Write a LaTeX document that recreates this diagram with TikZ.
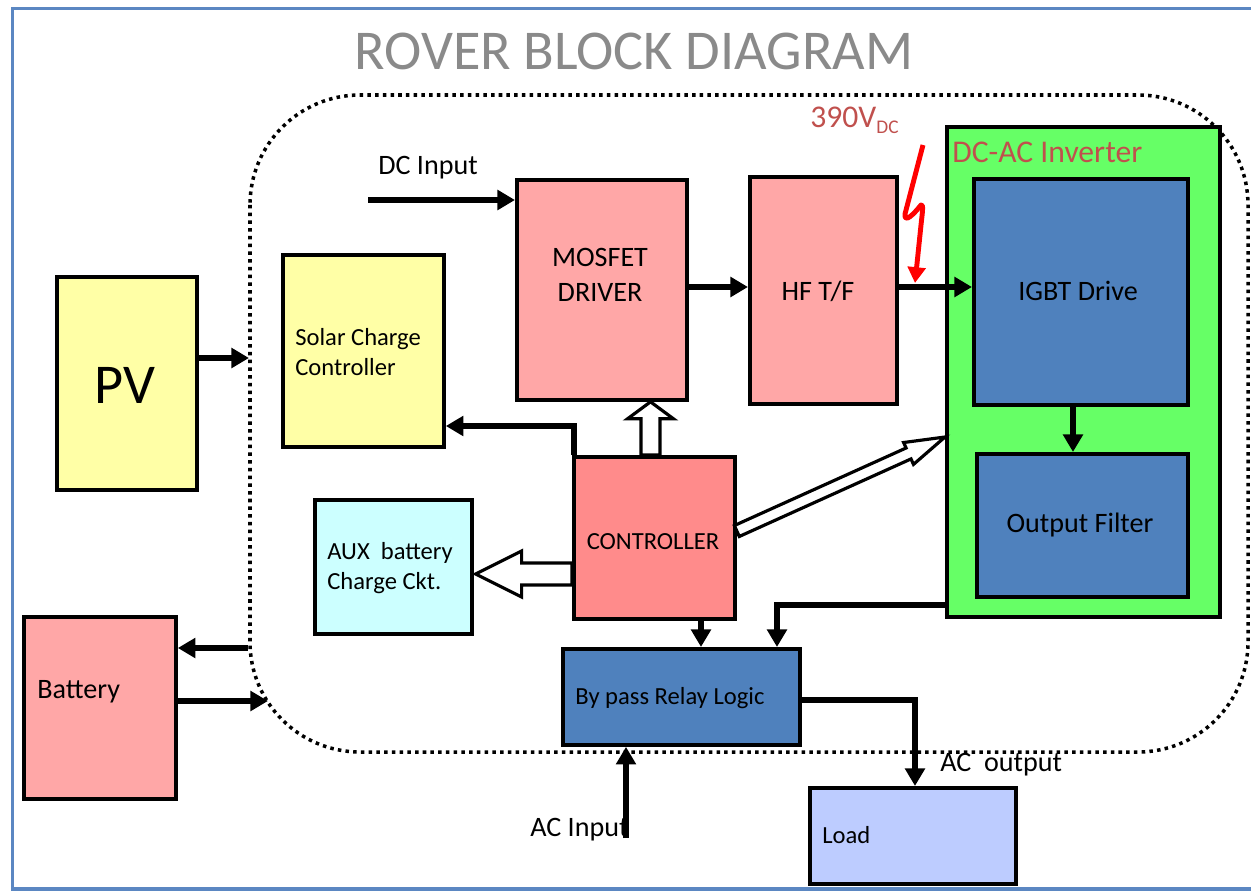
\documentclass[tikz,border=0pt]{standalone}
\usepackage{fontspec}
\setmainfont{Carlito}
\usetikzlibrary{arrows.meta,calc}
\definecolor{pinkbox}{HTML}{FFA7A7}
\definecolor{ctrlred}{HTML}{FF8B8B}
\definecolor{yelbox}{HTML}{FFFFA6}
\definecolor{cyanbox}{HTML}{CCFFFF}
\definecolor{greenbox}{HTML}{66FF66}
\definecolor{bluebox}{HTML}{4F81BD}
\definecolor{loadbox}{HTML}{BDCCFF}
\definecolor{brick}{HTML}{C0504D}
\definecolor{titlegray}{HTML}{8A8A8A}
\definecolor{framecol}{HTML}{5B87C2}
\newcommand{\myfs}[1]{\fontsize{#1}{1.2\dimexpr#1\relax}\selectfont}
\tikzset{
  box/.style={draw=black, line width=2.2pt, inner sep=0pt, anchor=north west},
  arr/.style={line width=3.2pt, -{Triangle[length=10pt,width=11pt]}},
  hollow/.style={draw=black, line width=1.8pt, fill=white, line join=miter},
  lbl/.style={inner sep=0pt, anchor=base west},
  clbl/.style={inner sep=0pt, anchor=base},
  dotline/.style={line width=2pt, dash pattern=on 2pt off 2.4pt},
}
\newcommand{\hollowarr}[5]{%
  \path ($(#2)!#5!(#1)$) coordinate (hp);
  \draw[hollow] ($(#1)!#3!90:(#2)$) -- ($(hp)!#3!90:(#2)$) -- ($(hp)!#4!90:(#2)$) -- (#2)
     -- ($(hp)!#4!-90:(#2)$) -- ($(hp)!#3!-90:(#2)$) -- ($(#1)!#3!-90:(#2)$) -- cycle;}
\begin{document}
\begin{tikzpicture}[x=0.02cm,y=-0.02cm]
\useasboundingbox (0,0) rectangle (1251,892);
% outer frame
\draw[framecol, line width=1.9pt] (1260,8.5) -- (12.5,8.5) -- (12.5,889) -- (1260,889);
% title
\node[clbl, text=titlegray] (title) at (634,70) {\myfs{32pt}ROVER BLOCK DIAGRAM};
% dotted boundary
\draw[dotline, rounded corners=2.2cm] (250,95) rectangle (1248,752);

% boxes
\node[box, fill=yelbox, minimum width=2.8cm, minimum height=4.26cm] (pv) at (55,275) {};
\node[box, fill=yelbox, minimum width=3.22cm, minimum height=3.84cm] (scc) at (281,253) {};
\node[box, fill=pinkbox, minimum width=3.4cm, minimum height=4.4cm] (mos) at (515,178) {};
\node[box, fill=pinkbox, minimum width=2.94cm, minimum height=4.54cm] (hf) at (748,175) {};
\node[box, fill=greenbox, minimum width=5.46cm, minimum height=9.8cm] (inv) at (945,125) {};
\node[box, fill=bluebox, minimum width=4.28cm, minimum height=4.52cm] (igbt) at (972,177) {};
\node[box, fill=bluebox, minimum width=4.22cm, minimum height=2.86cm] (filter) at (975,452) {};
\node[box, fill=ctrlred, minimum width=3.22cm, minimum height=3.24cm] (ctrl) at (572,455) {};
\node[box, fill=cyanbox, minimum width=3.14cm, minimum height=2.68cm] (aux) at (313,498) {};
\node[box, fill=pinkbox, minimum width=3.04cm, minimum height=3.64cm] (bat) at (22,615) {};
\node[box, fill=bluebox, minimum width=4.74cm, minimum height=1.92cm] (bypass) at (561,647) {};
\node[box, fill=loadbox, minimum width=4.12cm, minimum height=1.92cm] (load) at (808,786) {};

% texts
\node[clbl] (pvt) at (125,403) {\myfs{32pt}PV};
\node[lbl] (scct1) at (295,345) {\myfs{14pt}Solar Charge};
\node[lbl] (scct2) at (295,375) {\myfs{14pt}Controller};
\node[clbl] (most1) at (600,266) {\myfs{16pt}MOSFET};
\node[clbl] (most2) at (600,301) {\myfs{16pt}DRIVER};
\node[clbl] (hft) at (818,300) {\myfs{16pt}HF T/F};
\node[lbl, text=brick] (invt) at (952,162) {\myfs{18pt}DC-AC Inverter};
\node[clbl] (igbtt) at (1078,300) {\myfs{16pt}IGBT Drive};
\node[clbl] (filtert) at (1080,532) {\myfs{16pt}Output Filter};
\node[clbl] (ctrlt) at (653,549) {\myfs{14pt}CONTROLLER};
\node[lbl] (auxt1) at (327,559) {\myfs{14pt}AUX\ \ battery};
\node[lbl] (auxt2) at (327,589) {\myfs{14pt}Charge Ckt.};
\node[lbl] (batt) at (37,698) {\myfs{16pt}Battery};
\node[lbl] (bypt) at (575,704) {\myfs{14pt}By pass Relay Logic};
\node[lbl] (loadt) at (822,843) {\myfs{14pt}Load};
\node[lbl] (dcint) at (378,174) {\myfs{16pt}DC Input};
\node[lbl] (acint) at (530,836) {\myfs{16pt}AC Input};
\node[lbl] (acoutt) at (940,771) {\myfs{16pt}AC\ \ output};
\node[lbl, text=brick] (vt) at (810,128) {\myfs{18pt}390V\raisebox{-0.35ex}{\myfs{11pt}DC}};

% connectors
\coordinate (dcin) at (368,200);
\draw[arr] (dcin) -- (dcin -| mos.west);
\draw[arr] (mos.east |- 0,287) -- (hf.west |- 0,287);
\draw[arr] (hf.east |- 0,287) -- (igbt.west |- 0,287);
\draw[arr] (igbt.south -| 1073,0) -- (filter.north -| 1073,0);
\coordinate (pvtip) at (249,358);
\draw[arr] (pv.east |- pvtip) -- (pvtip);
\draw[arr] ([xshift=1pt]ctrl.north west) |- (scc.east |- 0,426);
\draw[arr] (ctrl.south -| 701,0) -- (bypass.north -| 701,0);
\draw[arr] (inv.west |- 0,605) -| (bypass.north -| 777,0);
\draw[arr] (bypass.east |- 0,700) -| (load.north -| 915,0);
\coordinate (acin) at (626,838);
\draw[arr] (acin) -- (acin |- bypass.south);
\coordinate (b1) at (248,648);
\draw[arr] (b1) -- (b1 -| bat.east);
\coordinate (b2) at (268,701);
\draw[arr] (bat.east |- b2) -- (b2);

% hollow arrows
\coordinate (ua) at (ctrl.north -| 650.5,0);
\coordinate (ub) at (mos.south -| 650.5,0);
\hollowarr{ua}{ub}{0.19cm}{0.46cm}{0.34cm}
\coordinate (la) at (ctrl.west |- 0,574);
\coordinate (lb) at ([xshift=1pt]aux.east |- 0,574);
\hollowarr{la}{lb}{0.22cm}{0.46cm}{0.92cm}
\coordinate (da) at (ctrl.east |- 0,531);
\coordinate (db) at (inv.west |- 0,437);
\hollowarr{da}{db}{0.12cm}{0.24cm}{0.8cm}

% 390V lightning mark
\draw[red, line width=2.8pt, line join=round, -{Triangle[length=9pt,width=10pt]}]
  (923,145) -- (905,214) .. controls (904,224) and (914,214) .. (921,205) .. controls (924,203) and (922,215) .. (921,225) -- (915,283);
\end{tikzpicture}
\end{document}
